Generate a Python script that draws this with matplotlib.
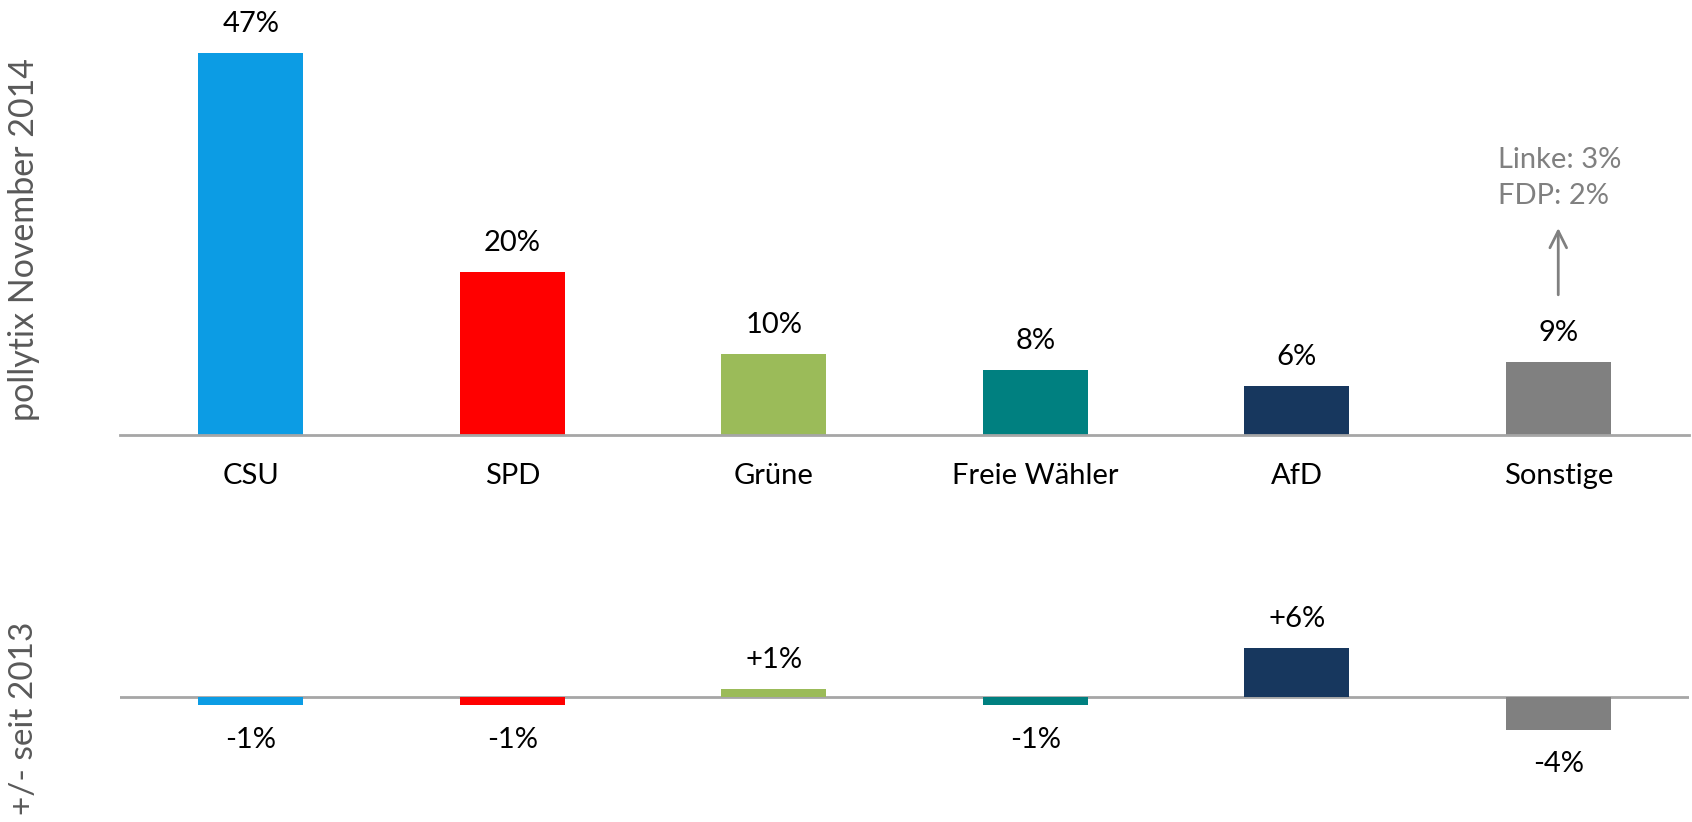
import matplotlib.pyplot as plt

# Parteien und Werte (pollytix November 2014)
parteien = ['CSU', 'SPD', 'Grüne', 'Freie Wähler', 'AfD', 'Sonstige']
werte = [47, 20, 10, 8, 6, 9]
aenderung = [-1, -1, 1, -1, 6, -4]
farben = ['#0C9CE4', '#FF0000', '#9BBB59', '#008080', '#17375E', '#808080']
sonstige_text = 'Linke: 3%\nFDP: 2%'

plt.rcParams['font.family'] = ['Lato', 'DejaVu Sans']

fig = plt.figure(figsize=(16.92, 8.22), dpi=100)
x = range(len(parteien))

# oberes Diagramm: Werte
ax1 = fig.add_axes([120 / 1692, 1 - 435 / 822, 1569 / 1692, 435 / 822])
ax1.bar(x, werte, width=0.4, color=farben)
ax1.set_xlim(-0.5, 5.5)
ax1.set_ylim(0, 53.5)
for i, v in enumerate(werte):
    ax1.annotate(f'{v}%', (i, v), xytext=(0, 21), textcoords='offset points',
                 ha='center', va='center', fontsize=21, color='black')
ax1.set_xticks(list(x))
ax1.set_xticklabels(parteien, fontsize=21)
ax1.tick_params(axis='x', length=0, pad=20)
ax1.set_yticks([])
for s in ['top', 'right', 'left']:
    ax1.spines[s].set_visible(False)
ax1.spines['bottom'].set_color('#A6A6A6')
ax1.spines['bottom'].set_linewidth(2)

# Pfeil und Text bei Sonstige
ax1.annotate('', xy=(5, 25.8), xytext=(5, 16.9),
             arrowprops=dict(arrowstyle='->', color='#808080', lw=2,
                             mutation_scale=30))
ax1.text(4.77, 31.6, sonstige_text, ha='left', va='center', fontsize=21,
         color='#808080', linespacing=1.45)

fig.text(24 / 1692, 1 - 240 / 822, 'pollytix November 2014', rotation=90,
         ha='center', va='center', fontsize=24.5, color='#595959')

# unteres Diagramm: Veränderung
ax2 = fig.add_axes([120 / 1692, 1 - 778.3 / 822, 1569 / 1692, 162.6 / 822])
ax2.bar(x, aenderung, width=0.4, color=farben)
ax2.axhline(0, color='#A6A6A6', lw=2, zorder=0)
ax2.set_xlim(-0.5, 5.5)
ax2.set_ylim(-10, 10)
for i, v in enumerate(aenderung):
    txt = f'+{v}%' if v > 0 else f'{v}%'
    off = 21 if v > 0 else -25
    ax2.annotate(txt, (i, v), xytext=(0, off), textcoords='offset points',
                 ha='center', va='center', fontsize=21, color='black')
ax2.axis('off')

fig.text(24 / 1692, 1 - 718 / 822, '+/- seit 2013', rotation=90,
         ha='center', va='center', fontsize=24, color='#595959')

plt.savefig('out.png', dpi=100)
